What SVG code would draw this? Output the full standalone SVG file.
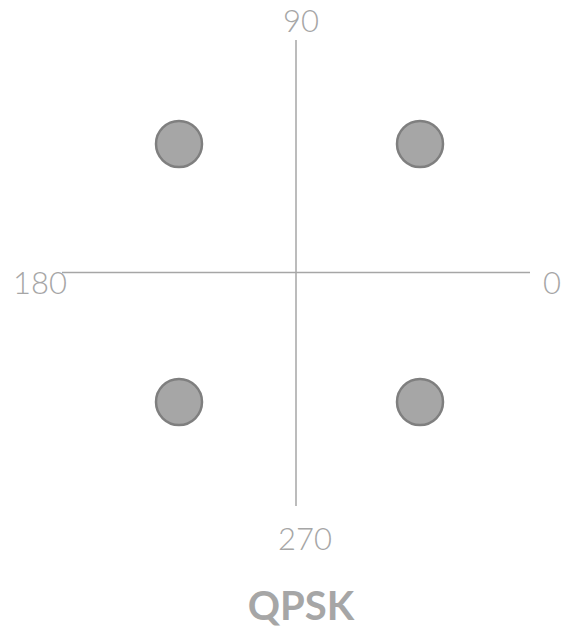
<svg xmlns="http://www.w3.org/2000/svg" width="564" height="630" viewBox="0 0 564 630">
<style>
.axis{stroke:#a6a6a6;stroke-width:1.5;fill:none}
.pt{fill:#a6a6a6;stroke:#7f7f7f;stroke-width:2.5}
.lbl{font-family:Lato,"Open Sans",sans-serif;font-size:31px;fill:#a6a6a6;font-weight:300}
.title{font-family:Lato,"Open Sans",sans-serif;font-size:40px;fill:#a6a6a6;font-weight:bold}
</style>
<rect width="564" height="630" fill="#ffffff"/>
<g id="axes">
<line class="axis" x1="296" y1="40" x2="296" y2="506"/>
<line class="axis" x1="62" y1="272.5" x2="530" y2="272.5"/>
</g>
<g id="p1"><circle class="pt" cx="179" cy="144" r="23"/></g>
<g id="p2"><circle class="pt" cx="420" cy="144" r="23"/></g>
<g id="p3"><circle class="pt" cx="179" cy="402" r="23"/></g>
<g id="p4"><circle class="pt" cx="420" cy="402" r="23"/></g>
<g id="labels">
<text class="lbl" x="301" y="32" text-anchor="middle">90</text>
<text class="lbl" x="13" y="294">180</text>
<text class="lbl" x="543" y="294">0</text>
<text class="lbl" x="305" y="550" text-anchor="middle">270</text>
<text class="title" x="301" y="620" text-anchor="middle">QPSK</text>
</g>
</svg>
